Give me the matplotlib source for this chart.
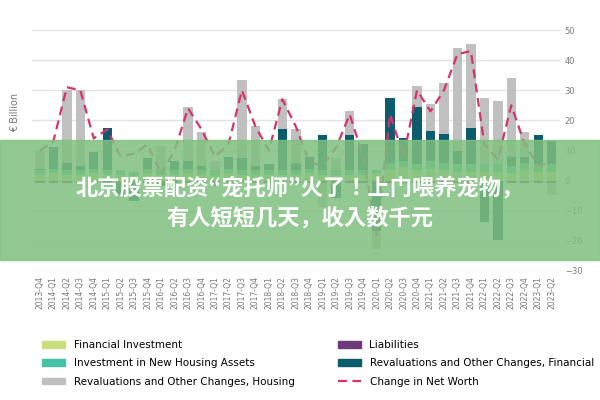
import matplotlib.pyplot as plt
import numpy as np
from matplotlib.patches import Rectangle
from matplotlib.lines import Line2D
from matplotlib import font_manager

quarters = ["2013-Q4"] + [f"{y}-Q{q}" for y in range(2014, 2023) for q in range(1, 5)] + ["2023-Q1", "2023-Q2"]

fin_inv = [2.0, 2.5, 2.0, 2.0, 2.5, 2.0, 2.0, 1.5, 2.5, 2.0, 2.0, 2.5, 2.0, 2.0, 2.5, 2.0, 2.0, 2.0, 2.0, 2.0, 2.5, 2.0, 2.0,
           2.0, 2.0, 2.5, 4.0, 4.5, 3.5, 4.0, 3.5, 3.0, 3.0, 3.0, 3.0, 2.5, 3.5, 3.0, 3.0]
house_inv = [1.5, 1.5, 1.5, 1.5, 1.5, 1.5, 1.5, 1.5, 1.5, 1.5, 1.5, 1.5, 1.5, 1.5, 1.5, 1.5, 1.5, 1.5, 1.5, 1.5, 1.5, 1.5,
             1.5, 1.5, 1.5, 1.0, 2.0, 2.0, 2.0, 2.5, 2.5, 2.5, 2.5, 2.5, 2.5, 2.5, 2.5, 2.5, 2.5]
liab = [-0.8] * 39
rev_fin = [0.5, 7, 2.5, 1.5, 5.5, 14, -4, -6, 3.5, -1, 3, 2.5, 1.5, -1, 4, 4, 1.5, 2, 13.5, 2.5, 4, 11.5, -5, 11.5,
           8.5, -16, 21.5, 7.5, 19, 10, 9.5, 4.5, 12, -13, -19, 3, 2, 9.5, 7.5]
rev_house = [6, 0, 24, 25, 0, 0, 0, 0, 0, 8, 0, 18, 11, 3, 0, 26, 13, 0, 10, 11, 0, -8, 4, 8, 0, -6, 0, 0, 7, 9, 17,
             34, 28, 22, 21, 26, 8, 0, -4]
net_worth = [10, 13, 31, 30, 14, 17, 8, 9, 12, 2, 10, 24, 17, 8, 12, 30, 18, 10, 27, 18, 6, 5, 11, 22, 8, -18, 22, 8,
             30, 23, 30, 42, 43, 12, 7, 25, 12, 5, 6]

series = [("Financial Investment", fin_inv, "#c9de7c"),
          ("Investment in New Housing Assets", house_inv, "#45c1a5"),
          ("Liabilities", liab, "#6d3b7a"),
          ("Revaluations and Other Changes, Financial", rev_fin, "#0c5c6e"),
          ("Revaluations and Other Changes, Housing", rev_house, "#c0c0c0")]

fig = plt.figure(figsize=(6, 4), dpi=100)
ax = fig.add_axes([0.053, 0.3225, 0.88, 0.6025])
x = np.arange(len(quarters))
pos = np.zeros(len(x))
neg = np.zeros(len(x))
for name, vals, col in series:
    v = np.array(vals, dtype=float)
    bottom = np.where(v >= 0, pos, neg)
    ax.bar(x, v, 0.7, bottom=bottom, color=col, zorder=2)
    pos += np.where(v >= 0, v, 0)
    neg += np.where(v < 0, v, 0)
ax.plot(x, net_worth, color="#d6336c", lw=1.6, ls=(0, (4, 2.5)), zorder=3)

ax.set_ylim(-30, 50)
ax.set_xlim(-0.6, len(x) - 0.4)
ax.set_yticks(range(-30, 60, 10))
ax.yaxis.tick_right()
ax.grid(axis="y", color="#e3e3e3", lw=1, zorder=0)
ax.tick_params(length=0, labelsize=6, colors="#777777")
ax.set_xticks(x)
ax.set_xticklabels(quarters, rotation=90, fontsize=5.5, color="#777777")
for s in ax.spines.values():
    s.set_visible(False)
fig.text(0.025, 0.72, "€ Billion", rotation=90, fontsize=7, color="#777777", ha="center", va="center")

handles = [Rectangle((0, 0), 1, 1, color=c) for _, _, c in series]
labels = [n for n, _, _ in series]
order = [0, 1, 4, 2, 3]
hs = [handles[i] for i in order] + [Line2D([], [], color="#d6336c", ls=(0, (4, 2.5)), lw=1.6)]
ls = [labels[i] for i in order] + ["Change in Net Worth"]
fig.legend(hs, ls, loc="lower left", bbox_to_anchor=(0.055, 0.01), ncol=2, frameon=False, fontsize=7.5,
           handlelength=2.2, handleheight=0.6, columnspacing=4.2, labelspacing=0.8)

# find an installed CJK font file
cjk = None
for f in font_manager.fontManager.ttflist:
    if "CJK" in f.name and ("SC" in f.name or "JP" in f.name):
        cjk = f.name
        break
fam = [cjk] if cjk else ["Noto Sans CJK SC"]

fig.patches.append(Rectangle((0, 0.35), 1, 0.3, transform=fig.transFigure, color="#7fc07f", alpha=0.85, zorder=10))
fig.text(0.5, 0.53, "北京股票配资“宠托师”火了！上门喂养宠物，", fontsize=16, color="white", weight="bold",
         ha="center", va="center", family=fam, zorder=11)
fig.text(0.5, 0.455, "有人短短几天，收入数千元", fontsize=16, color="white", weight="bold",
         ha="center", va="center", family=fam, zorder=11)

fig.savefig("out.png")
